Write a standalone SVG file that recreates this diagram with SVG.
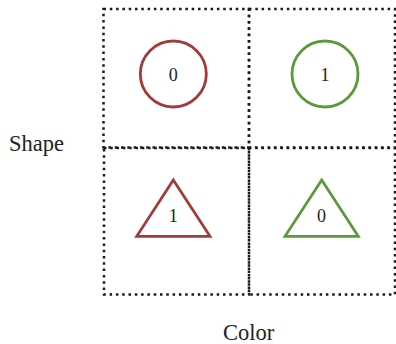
<svg xmlns="http://www.w3.org/2000/svg" width="396" height="344" viewBox="0 0 396 344">
<style>
.cell{fill:none;stroke:#1a1a1a;stroke-width:2.5;stroke-dasharray:2.5 3.8}
.red{fill:none;stroke:#a33a3a;stroke-width:2.8}
.green{fill:none;stroke:#5a9a3a;stroke-width:2.8}
.num{font-family:"Liberation Serif",serif;font-size:18px;fill:#222;text-anchor:middle}
.lab{font-family:"Liberation Serif",serif;font-size:22.5px;fill:#222}
</style>
<rect width="396" height="344" fill="#fff"/>
<g id="cells">
<rect class="cell" x="103.5" y="9" width="145.5" height="138.5"/>
<rect class="cell" x="249" y="9" width="146" height="138.5"/>
<rect class="cell" x="104" y="148" width="145" height="146.5"/>
<rect class="cell" x="249" y="148" width="146" height="146.5"/>
</g>
<g id="red-circle">
<circle class="red" cx="173.3" cy="74" r="33"/>
<text class="num" x="173.3" y="80.5">0</text>
</g>
<g id="green-circle">
<circle class="green" cx="325" cy="74" r="33"/>
<text class="num" x="325" y="80.5">1</text>
</g>
<g id="red-triangle">
<polygon class="red" points="173.3,180 210,236.3 136.7,236.3"/>
<text class="num" x="173.3" y="221.5">1</text>
</g>
<g id="green-triangle">
<polygon class="green" points="321.7,180 358.3,236.3 285,236.3"/>
<text class="num" x="321.5" y="221.5">0</text>
</g>
<g id="labels">
<text class="lab" x="9" y="151">Shape</text>
<text class="lab" x="223" y="339.5">Color</text>
</g>
</svg>
